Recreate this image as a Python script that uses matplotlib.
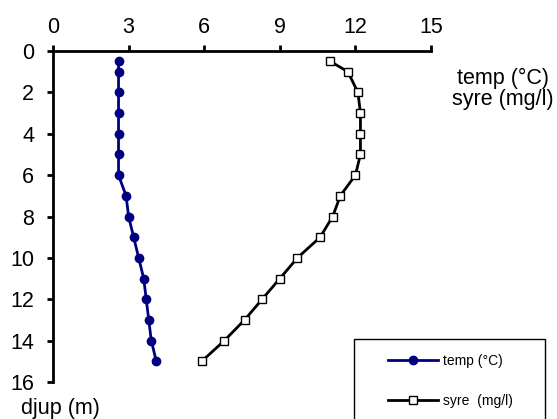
import matplotlib.pyplot as plt
from matplotlib.patches import Rectangle

plt.rcParams['font.family'] = ['Liberation Sans', 'DejaVu Sans']

# depth profile (m)
depth = [0.5, 1, 2, 3, 4, 5, 6, 7, 8, 9, 10, 11, 12, 13, 14, 15]
temp = [2.6, 2.6, 2.6, 2.6, 2.6, 2.6, 2.6, 2.9, 3.0, 3.2, 3.4, 3.6, 3.7, 3.8, 3.9, 4.1]
syre = [11.0, 11.7, 12.1, 12.2, 12.2, 12.2, 12.0, 11.4, 11.1, 10.6, 9.7, 9.0, 8.3, 7.6, 6.8, 5.9]

x_ticks = [0, 3, 6, 9, 12, 15]
y_ticks = [0, 2, 4, 6, 8, 10, 12, 14, 16]

W, H = 557, 419
fig = plt.figure(figsize=(W / 100, H / 100), dpi=100)
ax = fig.add_axes([53 / W, 1 - 382 / H, (431 - 53) / W, (382 - 51) / H])

l1, = ax.plot(temp, depth, color='#000080', lw=2, marker='o', ms=6,
              mfc='#000080', mec='#000080', label='temp (°C)')
l2, = ax.plot(syre, depth, color='black', lw=2, marker='s', ms=6,
              mfc='white', mec='black', mew=1, label='syre  (mg/l)')

ax.set_xlim(0, 15)
ax.set_ylim(16, 0)
ax.set_xticks(x_ticks)
ax.set_yticks(y_ticks)
ax.xaxis.tick_top()
ax.spines['right'].set_visible(False)
ax.spines['bottom'].set_visible(False)
ax.spines['top'].set_linewidth(2)
ax.spines['left'].set_linewidth(2)
ax.tick_params(direction='out', length=4.5, width=2, labelsize=15.5)
ax.tick_params(axis='x', pad=5)
ax.tick_params(axis='y', pad=9)

fig.text(503 / W, 1 - 89 / H, 'temp (°C)\nsyre (mg/l)', ha='center', va='center',
         fontsize=15.5, linespacing=1.02)
fig.text(21 / W, 1 - 408 / H, 'djup (m)', ha='left', va='center', fontsize=15.5)

# legend box
fig.patches.append(Rectangle((354 / W, -0.1), (545 - 354) / W, 1 - 339 / H + 0.1,
                             transform=fig.transFigure, fill=False, ec='black', lw=1))
fig.legend(handles=[l1, l2], loc='upper left', bbox_to_anchor=(374 / W, 1 - 340 / H),
           frameon=False, fontsize=10, handlelength=3.6, handletextpad=0.35,
           labelspacing=1.9, borderpad=0.5)

fig.savefig('out.png', dpi=100)
